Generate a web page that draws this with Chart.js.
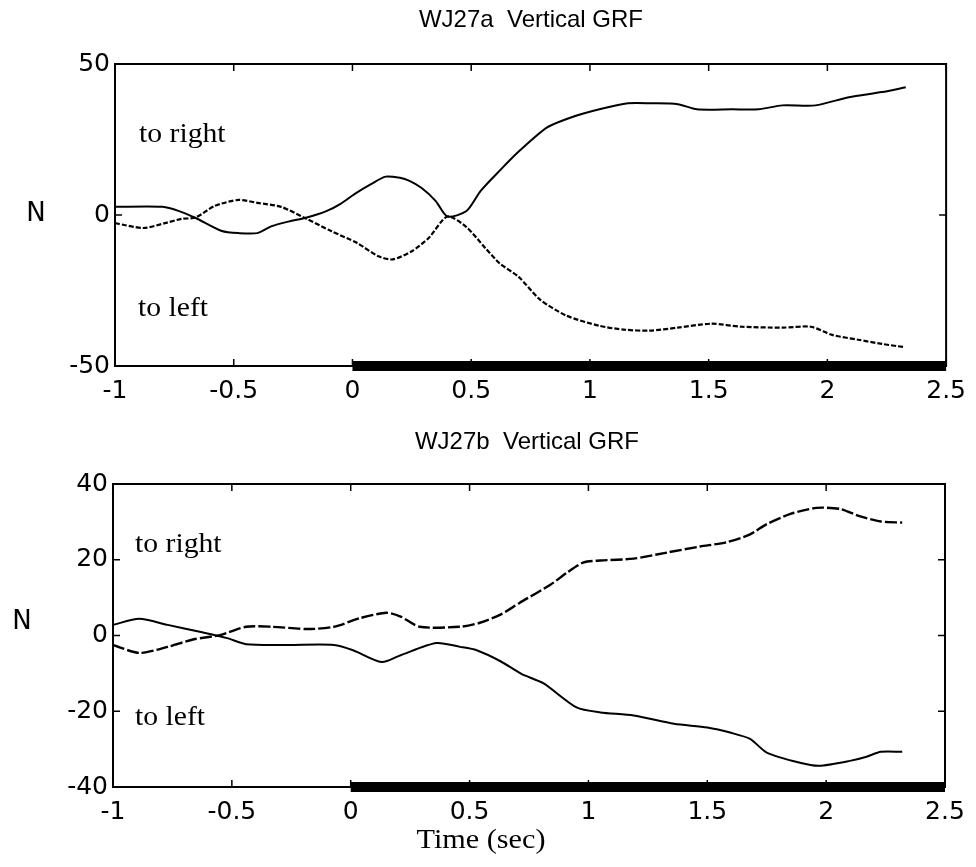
<!DOCTYPE html>
<html><head><meta charset="utf-8">
<script src="https://cdn.jsdelivr.net/npm/chart.js@4/dist/chart.umd.min.js"></script>
<style>
html,body{margin:0;padding:0;background:#fff;}
#wrap{position:relative;width:976px;height:867px;background:#fff;}
.box{position:absolute;left:0;width:976px;}
</style></head><body>
<div id="wrap">
<div class="box" style="top:0;height:425px"><canvas id="c1" width="976" height="425"></canvas></div>
<div class="box" style="top:425px;height:442px"><canvas id="c2" width="976" height="442"></canvas></div>
</div>
<script>
// ---------- tick labels ----------
const xTickLabels = ['-1','-0.5','0','0.5','1','1.5','2','2.5'];
const topYTicks = [-50, 0, 50];
const botYTicks = [-40, -20, 0, 20, 40];

// ---------- WJ27a (top) ----------
const topRightT = [-1,-0.80,-0.73,-0.66,-0.55,-0.48,-0.40,-0.34,-0.26,-0.20,-0.11,-0.05,0.01,0.08,0.14,0.20,0.24,0.29,0.35,0.40,0.48,0.54,0.62,0.70,0.82,0.92,1.04,1.16,1.26,1.37,1.45,1.60,1.71,1.81,1.95,2.09,2.23,2.33];
const topRightN = [2.7,2.7,1.3,-1,-5.3,-6,-6,-3.7,-2,-1,1.3,3.7,7,10.3,12.7,12.3,11.3,9,4.7,-0.5,1.3,8,14.7,21,29,32.3,35,37,37,36.7,35,35,35,36.3,36.3,39,40.7,42.3];
const topLeftT = [-1,-0.88,-0.79,-0.72,-0.66,-0.58,-0.48,-0.40,-0.30,-0.20,-0.09,0.02,0.11,0.17,0.25,0.32,0.40,0.48,0.56,0.62,0.70,0.79,0.90,1.04,1.15,1.25,1.37,1.51,1.64,1.81,1.93,2.02,2.13,2.23,2.32];
const topLeftN = [-2.7,-4.3,-2.7,-1.3,-0.8,3,5,4,2.7,-1,-5.3,-9.3,-13.7,-14.7,-12,-7.7,-0.5,-4,-11,-16,-20.5,-28,-33.3,-36.7,-38,-38.3,-37.3,-36,-37,-37.3,-37,-39.7,-41.3,-42.7,-43.7];
const topBarT = [0, 2.5];
const topBarN = [-50, -50];

// ---------- WJ27b (bottom) ----------
const botRightT = [-1,-0.89,-0.77,-0.66,-0.55,-0.44,-0.33,-0.18,-0.07,0.04,0.15,0.21,0.29,0.46,0.54,0.63,0.71,0.84,0.91,0.98,1.05,1.19,1.33,1.47,1.58,1.68,1.75,1.85,1.96,2.06,2.14,2.23,2.32];
const botRightN = [-2.5,-4.6,-3,-1,0.1,2.3,2.3,1.7,2.3,4.6,6,5,2.3,2.3,3.3,5.5,8.6,13.4,16.6,19.3,19.8,20.3,21.9,23.5,24.6,26.7,29.4,32.1,33.7,33.4,31.5,30.1,29.8];
const botLeftT = [-1,-0.89,-0.77,-0.63,-0.52,-0.44,-0.27,-0.07,0.01,0.13,0.21,0.36,0.46,0.53,0.63,0.72,0.81,0.95,1.05,1.19,1.36,1.50,1.60,1.68,1.75,1.89,1.97,2.10,2.17,2.23,2.32];
const botLeftN = [2.8,4.4,2.8,0.9,-0.7,-2.3,-2.5,-2.5,-3.9,-7,-5.2,-2,-3,-3.9,-6.8,-10.2,-12.6,-19,-20.3,-21.1,-23.3,-24.3,-25.7,-27.3,-30.9,-33.6,-34.4,-33.1,-32,-30.7,-30.7];
const botBarT = [0, 2.5];
const botBarN = [-40, -40];

const pts = (xs, ys) => xs.map((x, i) => ({x: x, y: ys[i]}));

function drawText(ctx, t) {
  ctx.save();
  ctx.font = t.font;
  ctx.fillStyle = '#000';
  ctx.textAlign = t.align || 'left';
  ctx.textBaseline = t.baseline || 'alphabetic';
  ctx.translate(t.x, t.y);
  ctx.scale(t.sx || 1, 1);
  ctx.fillText(t.text, 0, 0);
  ctx.restore();
}

const framePlugin = {
  id: 'frame',
  beforeDatasetsDraw(chart, args, opts) {
    const {ctx, chartArea: a, scales: {x, y}} = chart;
    const len = opts.tickLen || 7;
    ctx.save();
    ctx.strokeStyle = '#000';
    ctx.lineWidth = 2;
    ctx.beginPath();
    ctx.moveTo(a.left, a.top); ctx.lineTo(a.right, a.top); ctx.lineTo(a.right, a.bottom);
    ctx.stroke();
    ctx.lineWidth = 1.5;
    ctx.beginPath();
    x.ticks.forEach(t => {
      const p = x.getPixelForValue(t.value);
      ctx.moveTo(p, a.top); ctx.lineTo(p, a.top + len);
      ctx.moveTo(p, a.bottom); ctx.lineTo(p, a.bottom - len);
    });
    y.ticks.forEach(t => {
      const p = y.getPixelForValue(t.value);
      ctx.moveTo(a.left, p); ctx.lineTo(a.left + len, p);
      ctx.moveTo(a.right, p); ctx.lineTo(a.right - len, p);
    });
    ctx.stroke();
    ctx.restore();
  },
  afterDraw(chart, args, opts) {
    (opts.texts || []).forEach(t => drawText(chart.ctx, t));
  }
};

const tickFont = {family: '"DejaVu Sans", sans-serif', size: 25};
const serif = '27px "Liberation Serif", "Times New Roman", serif';

function makeChart(id, cfg) {
  return new Chart(document.getElementById(id), {
    type: 'line',
    data: {datasets: cfg.datasets},
    options: {
      responsive: false,
      animation: false,
      devicePixelRatio: 1,
      layout: {padding: {left: 0, top: cfg.top, right: cfg.right, bottom: 0}},
      plugins: {legend: {display: false}, tooltip: {enabled: false}, frame: {texts: cfg.texts, tickLen: 7}},
      elements: {point: {radius: 0}, line: {tension: 0.25, borderCapStyle: 'butt'}},
      scales: {
        x: {
          type: 'linear', min: -1, max: 2.5,
          afterBuildTicks: s => { s.ticks = xTickLabels.map(v => ({value: parseFloat(v)})); },
          ticks: {font: tickFont, color: '#000', padding: 10, maxRotation: 0, autoSkip: false,
                  callback: (v, i) => xTickLabels[i]},
          grid: {display: false, drawTicks: false},
          border: {display: true, color: '#000', width: 2},
          afterFit: s => { s.height = cfg.xH; }
        },
        y: {
          type: 'linear', min: cfg.yTicks[0], max: cfg.yTicks[cfg.yTicks.length - 1],
          afterBuildTicks: s => { s.ticks = cfg.yTicks.map(v => ({value: v})); },
          ticks: {font: tickFont, color: '#000', padding: 5, autoSkip: false, callback: v => String(v)},
          grid: {display: false, drawTicks: false},
          border: {display: true, color: '#000', width: 2},
          afterFit: s => { s.width = cfg.yW; }
        }
      }
    },
    plugins: [framePlugin]
  });
}

makeChart('c1', {
  top: 64, right: 29, xH: 425 - 366, yW: 115, yTicks: topYTicks,
  datasets: [
    {data: pts(topRightT, topRightN), borderColor: '#000', borderWidth: 2},
    {data: pts(topLeftT, topLeftN), borderColor: '#000', borderWidth: 2.2, borderDash: [5, 2]},
    {data: pts(topBarT, topBarN), borderColor: '#000', borderWidth: 10, clip: 8, tension: 0}
  ],
  texts: [
    {text: 'WJ27a  Vertical GRF', x: 531, y: 20, align: 'center', baseline: 'middle', font: '24px "Liberation Sans", Arial, sans-serif'},
    {text: 'N', x: 36, y: 214, align: 'center', baseline: 'middle', font: '26px "DejaVu Sans", sans-serif'},
    {text: 'to right', x: 139, y: 142, font: serif, sx: 1.1},
    {text: 'to left', x: 138, y: 316, font: serif, sx: 1.1}
  ]
});

makeChart('c2', {
  top: 59, right: 31, xH: 442 - 362, yW: 113, yTicks: botYTicks,
  datasets: [
    {data: pts(botRightT, botRightN), borderColor: '#000', borderWidth: 2.4, borderDash: [12, 3]},
    {data: pts(botLeftT, botLeftN), borderColor: '#000', borderWidth: 2},
    {data: pts(botBarT, botBarN), borderColor: '#000', borderWidth: 10, clip: 8, tension: 0}
  ],
  texts: [
    {text: 'WJ27b  Vertical GRF', x: 527, y: 17, align: 'center', baseline: 'middle', font: '24px "Liberation Sans", Arial, sans-serif'},
    {text: 'N', x: 22, y: 197, align: 'center', baseline: 'middle', font: '26px "DejaVu Sans", sans-serif'},
    {text: 'to right', x: 135, y: 127, font: serif, sx: 1.1},
    {text: 'to left', x: 135, y: 300, font: serif, sx: 1.1},
    {text: 'Time (sec)', x: 481, y: 416, align: 'center', baseline: 'middle', font: serif, sx: 1.12}
  ]
});
</script>
</body></html>
